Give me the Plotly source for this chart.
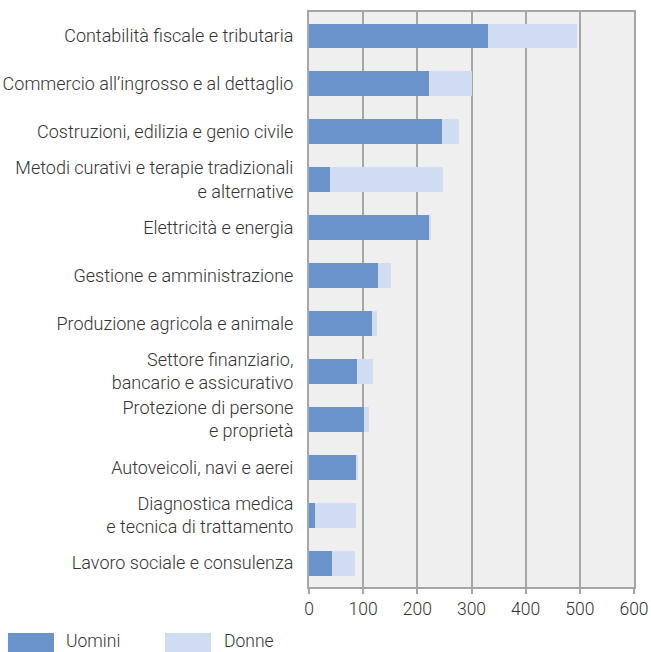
import plotly.graph_objects as go

categories = [
    "Contabilità fiscale e tributaria",
    "Commercio all’ingrosso e al dettaglio",
    "Costruzioni, edilizia e genio civile",
    "Metodi curativi e terapie tradizionali<br>e alternative",
    "Elettricità e energia",
    "Gestione e amministrazione",
    "Produzione agricola e animale",
    "Settore finanziario,<br>bancario e assicurativo",
    "Protezione di persone<br>e proprietà",
    "Autoveicoli, navi e aerei",
    "Diagnostica medica<br>e tecnica di trattamento",
    "Lavoro sociale e consulenza",
]
uomini = [330, 221, 245, 39, 221, 127, 116, 88, 101, 87, 11, 42]
donne = [164, 79, 31, 208, 4, 24, 9, 30, 9, 3, 76, 43]
tick_vals = [0, 100, 200, 300, 400, 500, 600]
series_names = ["Uomini", "Donne"]

c_u = "#6a93cb"
c_d = "#cfdcf1"
grid = "#a6a6a6"
txt = "#333333"
font_family = "Roboto"

W, H = 651, 652
L, R, T, B = 309, 17, 12, 65

fig = go.Figure()
fig.add_trace(go.Bar(y=categories, x=uomini, orientation="h", name=series_names[0],
                     marker=dict(color=c_u, line=dict(width=0)), showlegend=False))
fig.add_trace(go.Bar(y=categories, x=donne, orientation="h", name=series_names[1],
                     marker=dict(color=c_d, line=dict(width=0)), showlegend=False))

fig.update_layout(
    width=W, height=H,
    barmode="stack",
    bargap=0.48,
    margin=dict(l=L, r=R, t=T, b=B, autoexpand=False),
    paper_bgcolor="white",
    plot_bgcolor="#efefef",
    font=dict(family=font_family, size=18, color=txt, weight=300),
    xaxis=dict(range=[0, 600], tickvals=tick_vals, showgrid=True, gridcolor=grid, gridwidth=1.5,
               showline=True, linecolor=grid, linewidth=2, mirror=True,
               ticks="outside", ticklen=5, tickcolor=grid, tickwidth=1.5,
               tickfont=dict(size=17.5, color=txt, weight=300), zeroline=False, fixedrange=True,
               automargin=False),
    yaxis=dict(autorange="reversed", showline=True, linecolor=grid, linewidth=2, mirror=True,
               ticks="", tickfont=dict(size=18, color=txt, weight=300), ticklabelstandoff=10,
               showgrid=False, fixedrange=True, automargin=False),
)

# custom legend (pixel positions converted to paper coords)
pw = W - L - R
ph = H - T - B
def px_x(x):
    return (x - L) / pw
def px_y(y):
    return (H - B - y) / ph

leg_top, leg_bot = 633, 653
for (x0, x1, xt), color, name in zip([(8, 54, 64), (165, 211, 222)], [c_u, c_d], series_names):
    fig.add_shape(type="rect", xref="paper", yref="paper",
                  x0=px_x(x0), x1=px_x(x1), y0=px_y(leg_bot), y1=px_y(leg_top),
                  fillcolor=color, line=dict(width=0))
    fig.add_annotation(xref="paper", yref="paper", x=px_x(xt), y=px_y(641),
                       text=name, showarrow=False, xanchor="left", yanchor="middle",
                       font=dict(size=17.5, color=txt, weight=300))

fig.write_html("out.html", config={"displayModeBar": False},
               post_script="document.body.style.margin='0';")
